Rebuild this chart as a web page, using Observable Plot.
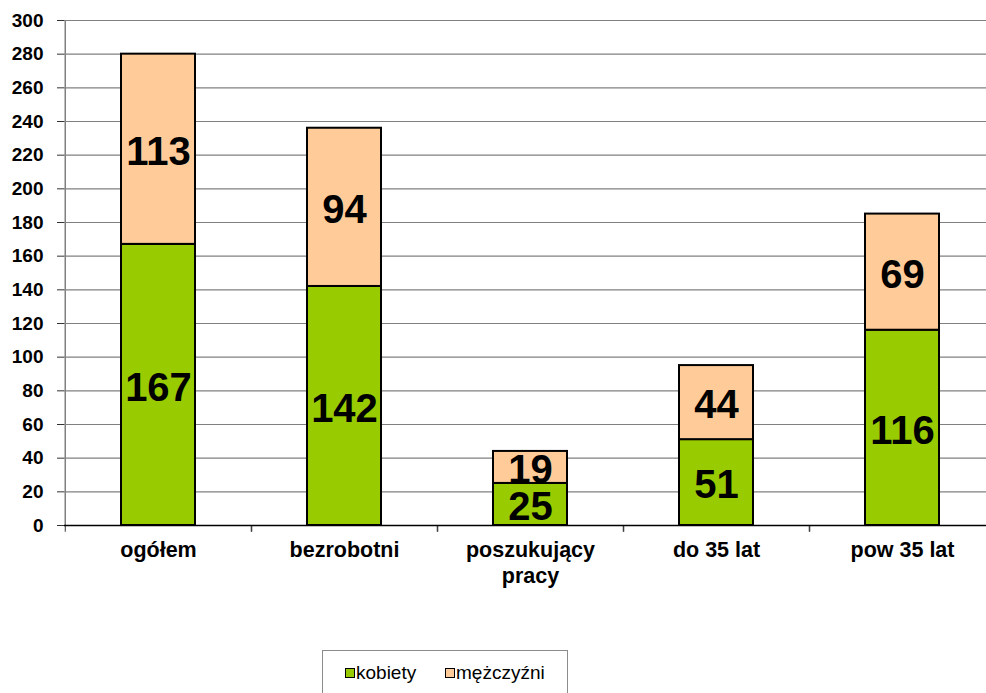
<!DOCTYPE html>
<html>
<head>
<meta charset="utf-8">
<script src="https://cdn.jsdelivr.net/npm/d3@7"></script>
<script src="https://cdn.jsdelivr.net/npm/@observablehq/plot@0.6"></script>
<style>
  html, body { margin: 0; padding: 0; background: #fff; }
  body { width: 986px; height: 693px; overflow: hidden; position: relative; font-family: "Liberation Sans", Arial, sans-serif; }
  #legend { position: absolute; left: 322px; top: 650px; width: 246px; height: 60px; border: 1.5px solid #8c8c8c; box-sizing: border-box; font-size: 19px; color: #000; }
  .item { position: absolute; top: 11px; display: flex; align-items: center; }
  .sw { width: 8px; height: 8px; border: 1.5px solid #000; margin-right: 1px; }
</style>
</head>
<body>
<div id="chart"></div>
<div id="legend"></div>
<script>
const categories = ["ogółem", "bezrobotni", "poszukujący\npracy", "do 35 lat", "pow 35 lat"];
const series = ["kobiety", "mężczyźni"];
const kobiety = [167, 142, 25, 51, 116];
const mezczyzni = [113, 94, 19, 44, 69];
const yTicks = [0, 20, 40, 60, 80, 100, 120, 140, 160, 180, 200, 220, 240, 260, 280, 300];
const colors = ["#99cc00", "#ffcc99"];

const data = [];
categories.forEach((c, i) => {
  data.push({cat: c, series: series[0], value: kobiety[i]});
  data.push({cat: c, series: series[1], value: mezczyzni[i]});
});

const x0 = 64, x1 = 996.5;
const step = (x1 - x0) / categories.length;

const chart = Plot.plot({
  width: 986,
  height: 640,
  marginTop: 20,
  marginBottom: 115,
  marginLeft: 64,
  marginRight: 0,
  style: {fontFamily: "Liberation Sans, Arial, sans-serif", background: "#fff"},
  x: {type: "band", domain: categories, range: [x0, x1], paddingInner: 0.6, paddingOuter: 0.3, align: 0.5},
  y: {domain: [0, 300], ticks: yTicks},
  color: {domain: series, range: colors},
  marks: [
    Plot.gridY(yTicks, {stroke: "#808080", strokeOpacity: 1, strokeWidth: 1.2}),
    Plot.ruleX([categories[0]], {x: d => d, dx: -step / 2, y1: 0, y2: 300, stroke: "#808080", strokeWidth: 1.5}),
    Plot.ruleX(categories, {x: d => d, dx: -step / 2, y1: 0, y2: -4, stroke: "#333", strokeWidth: 1}),
    Plot.ruleX(categories, {x: d => d, dx: step / 2, y1: 0, y2: -4, stroke: "#333", strokeWidth: 1}),
    Plot.axisY({ticks: yTicks, tickSize: 7, tickPadding: 14, fontSize: 19, fontWeight: "bold", stroke: "#333", fill: "#000", label: null}),
    Plot.axisX({tickSize: 0, tickPadding: 13, fontSize: 21.5, fontWeight: "bold", fill: "#000", label: null, lineHeight: 1.2, textAnchor: "middle"}),
    Plot.barY(data, Plot.stackY({x: "cat", y: "value", fill: "series", stroke: "#000", strokeWidth: 2})),
    Plot.ruleY([0], {stroke: "#000", strokeWidth: 1.5}),
    Plot.text(data, Plot.stackY({x: "cat", y: "value", text: "value", fontSize: 40, fontWeight: "bold", fill: "#000", dy: 3}))
  ]
});
document.getElementById("chart").appendChild(chart);

const legend = document.getElementById("legend");
const lx = [22, 122];
series.forEach((s, i) => {
  const it = document.createElement("div");
  it.className = "item";
  it.style.left = lx[i] + "px";
  const sw = document.createElement("div");
  sw.className = "sw";
  sw.style.background = colors[i];
  const t = document.createElement("span");
  t.textContent = s;
  it.appendChild(sw);
  it.appendChild(t);
  legend.appendChild(it);
});
</script>
</body>
</html>
